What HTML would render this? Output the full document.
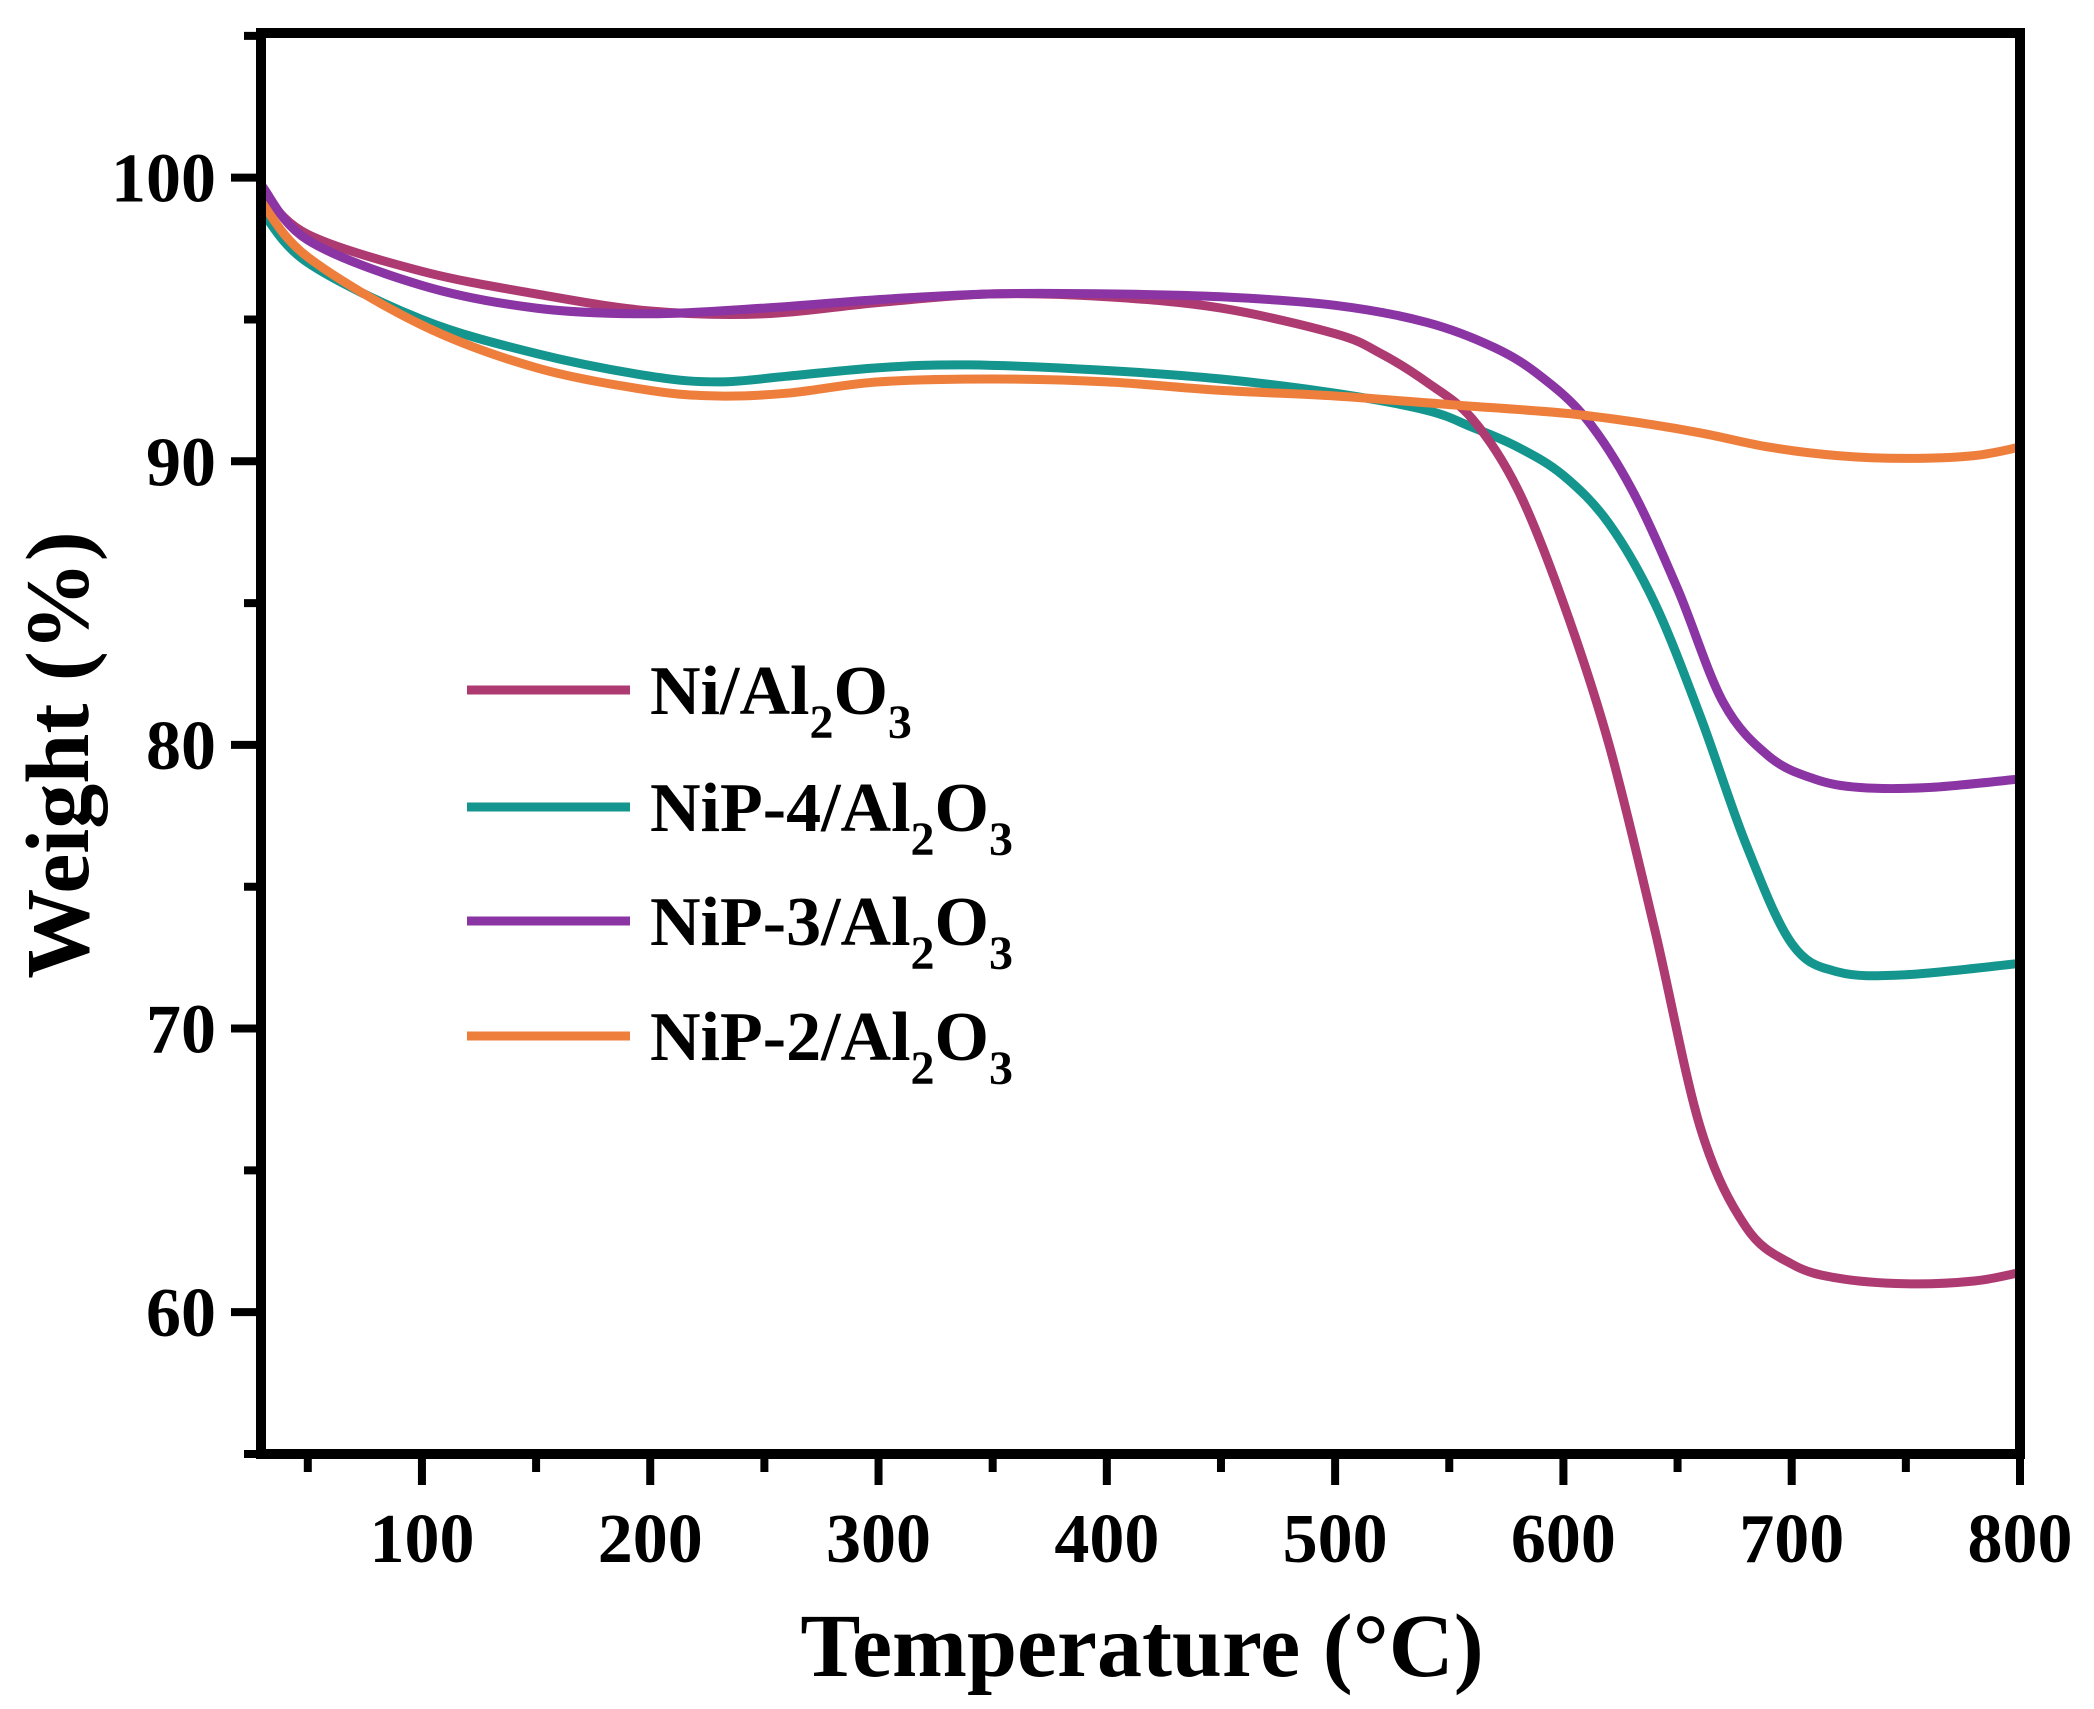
<!DOCTYPE html>
<html><head><meta charset="utf-8"><style>
html,body{margin:0;padding:0;background:#fff;}
svg{display:block;font-family:"Liberation Serif","Times New Roman",serif;font-weight:bold;}
</style></head><body>
<svg id="chart" width="2094" height="1709" viewBox="0 0 2094 1709" xmlns="http://www.w3.org/2000/svg">
<defs><clipPath id="clip"><rect x="261" y="33" width="1759" height="1421"/></clipPath></defs>
<g id="series" clip-path="url(#clip)"></g>
<rect x="261" y="33" width="1759" height="1421" fill="none" stroke="#000" stroke-width="10"/>
<g id="xticks"></g>
<g id="yticks"></g>
<text x="1142" y="1676" font-size="90" text-anchor="middle">Temperature (°C)</text>
<text transform="translate(88,755) rotate(-90)" font-size="90" text-anchor="middle">Weight (%)</text>
<g id="legend"></g>
</svg>
<script>
const xTicks=[100,200,300,400,500,600,700,800];
const yTicks=[60,70,80,90,100];
const tempNi=[30,50,100,150,200,250,300,350,400,450,500,520,540,560,580,600,620,640,660,680,700,720,750,780,800];
const wNi=[99.5,98,96.7,95.9,95.3,95.2,95.6,95.9,95.8,95.4,94.5,93.8,92.8,91.5,89,85,80,73.5,66.5,63,61.7,61.2,61.0,61.1,61.4];
const tempP4=[30,50,100,150,200,230,260,300,340,400,450,500,540,560,580,600,620,640,660,680,700,720,750,800];
const wP4=[98.8,97,95,93.8,93.0,92.8,93.0,93.3,93.4,93.2,92.9,92.4,91.8,91.2,90.5,89.5,87.8,85,81,76.5,73,72,71.9,72.3];
const tempP3=[30,50,100,150,200,250,300,350,400,450,500,540,570,590,610,630,650,670,690,710,730,760,800];
const wP3=[99.7,97.8,96.2,95.4,95.2,95.4,95.7,95.9,95.9,95.8,95.5,94.9,94,93,91.5,89,85.5,81.5,79.6,78.8,78.5,78.5,78.8];
const tempP2=[30,50,100,150,200,230,260,300,350,400,450,500,550,600,630,660,690,720,750,780,800];
const wP2=[99.1,97.2,94.8,93.3,92.5,92.3,92.4,92.8,92.9,92.8,92.5,92.3,92.0,91.7,91.4,91.0,90.5,90.2,90.1,90.2,90.5];
const seriesNames=["Ni/Al2O3","NiP-4/Al2O3","NiP-3/Al2O3","NiP-2/Al2O3"];
const legendPrefixes=["Ni/Al","NiP-4/Al","NiP-3/Al","NiP-2/Al"];

const NS="http://www.w3.org/2000/svg";
const X0=29.5,X1=800,PX0=261,PX1=2020,Y0=55,Y1=105.1,PY0=1454,PY1=33;
function xs(v){return PX0+(v-X0)/(X1-X0)*(PX1-PX0);}
function ys(v){return PY0+(v-Y0)/(Y1-Y0)*(PY1-PY0);}
function mk(t,a){const e=document.createElementNS(NS,t);for(const k in a)e.setAttribute(k,a[k]);return e;}
function smooth(pts){let d="M"+pts[0][0]+","+pts[0][1];
 for(let i=0;i<pts.length-1;i++){const p0=pts[i-1]||pts[i],p1=pts[i],p2=pts[i+1],p3=pts[i+2]||p2;
  const c1=[p1[0]+(p2[0]-p0[0])/6,p1[1]+(p2[1]-p0[1])/6],c2=[p2[0]-(p3[0]-p1[0])/6,p2[1]-(p3[1]-p1[1])/6];
  d+=" C"+c1+" "+c2+" "+p2;}return d;}
const xg=document.getElementById("xticks");
for(let v=50;v<=800;v+=50){const major=v%100===0;
 const t=mk("line",{x1:xs(v),x2:xs(v),y1:1454,y2:major?1485:1472,stroke:"#000","stroke-width":8});
 
 
 xg.appendChild(t);}
xTicks.forEach(v=>{const t=mk("text",{x:xs(v),y:1562,"font-size":70,"text-anchor":"middle"});t.textContent=v;
 
 
 xg.appendChild(t);});
const yg=document.getElementById("yticks");
for(let v=55;v<=105;v+=5){const major=v%10===0;
 const t=mk("line",{x1:261,x2:major?231:244,y1:ys(v),y2:ys(v),stroke:"#000","stroke-width":8});
 
 
 yg.appendChild(t);}
yTicks.forEach(v=>{const t=mk("text",{x:216,y:ys(v)+24,"font-size":70,"text-anchor":"end"});t.textContent=v;
 
 
 yg.appendChild(t);});
const colors=["#AE3A72","#14968E","#8A35A3","#EE7E3C"];
const sets=[[tempP4,wP4,1],[tempNi,wNi,0],[tempP3,wP3,2],[tempP2,wP2,3]];
const sg=document.getElementById("series");
sets.forEach(s=>{const pts=s[0].map((t,i)=>[xs(t).toFixed(1),ys(s[1][i]).toFixed(1)].map(Number));
 const p=mk("path",{d:smooth(pts),fill:"none",stroke:colors[s[2]],"stroke-width":9,"stroke-linejoin":"round"});
 
 
 sg.appendChild(p);});
const lg=document.getElementById("legend");
const ly=[690,807,921,1036];
seriesNames.forEach((n,i)=>{
 const l=mk("line",{x1:467,x2:630,y1:ly[i],y2:ly[i],stroke:colors[i],"stroke-width":9});
 
 
 lg.appendChild(l);
 const t=mk("text",{x:650,y:ly[i]+24,"font-size":70});
 
 
 t.innerHTML=legendPrefixes[i]+'<tspan dy="24" font-size="48">2</tspan><tspan dy="-24">O</tspan><tspan dy="24" font-size="48">3</tspan>';
 lg.appendChild(t);});
</script>
</body></html>
